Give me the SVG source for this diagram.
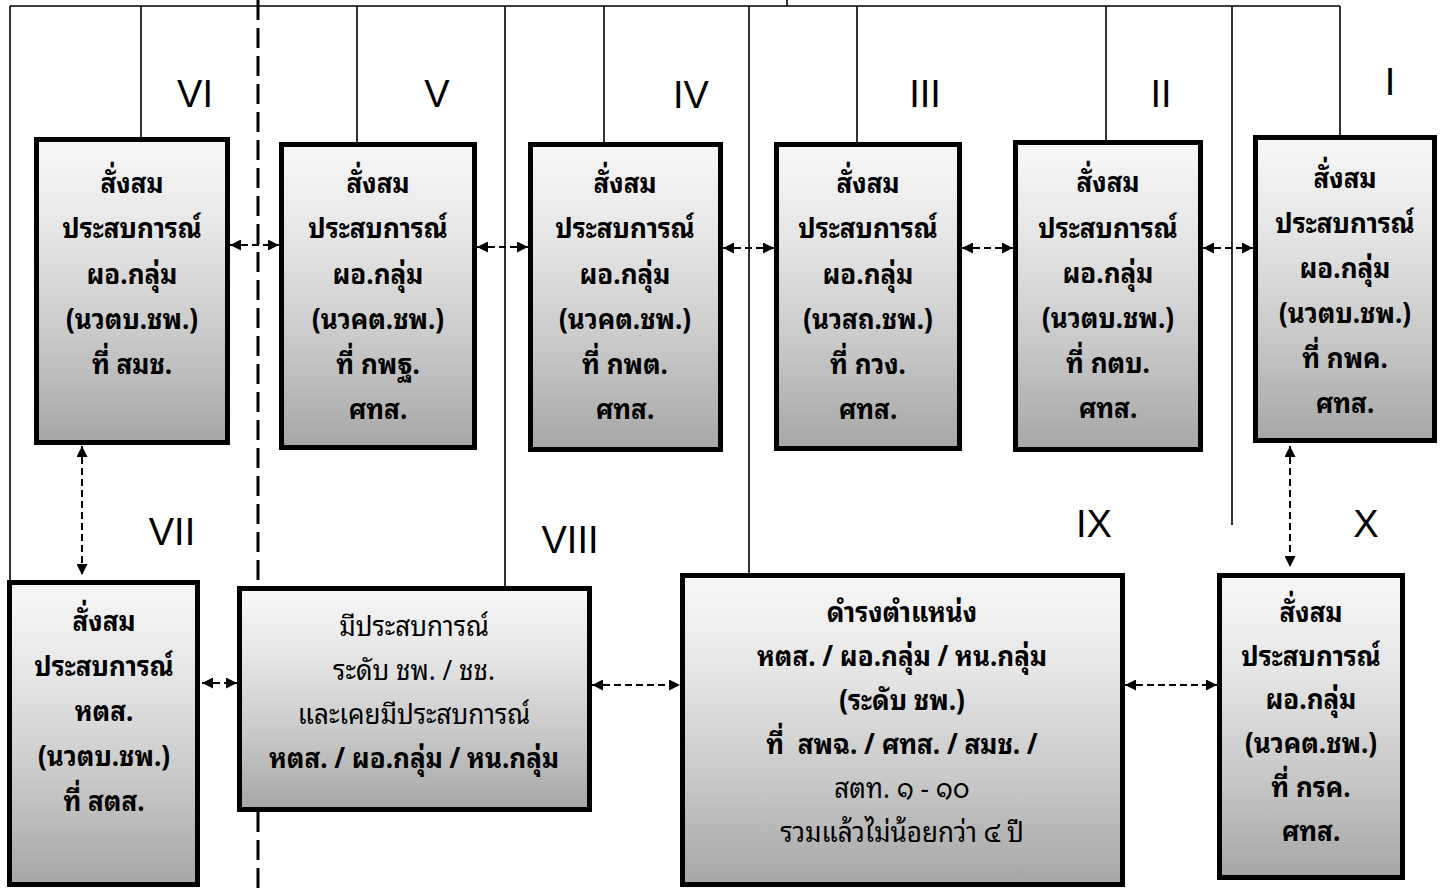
<svg xmlns="http://www.w3.org/2000/svg" width="1447" height="888" viewBox="0 0 1447 888">
<style>
.box{stroke:#000;stroke-width:5;fill:url(#shade)}
.th{font-family:"Noto Sans Thai Looped","Loma","Garuda","Noto Sans Thai","Noto Sans","DejaVu Sans",sans-serif;font-size:28px;font-weight:bold;text-anchor:middle;fill:#000}
.thn{font-weight:normal}
.rn{font-family:"Liberation Sans",Arial,sans-serif;font-size:38px;text-anchor:middle;fill:#000}
.wire{stroke:#000;stroke-width:1.6;fill:none}
.div{stroke:#000;stroke-width:3;stroke-dasharray:20 8;fill:none}
.arr{stroke:#000;stroke-width:2;stroke-dasharray:7 4;fill:none;marker-start:url(#ah);marker-end:url(#ah)}
</style>
<defs>
<linearGradient id="shade" x1="0" y1="0" x2="0" y2="1">
<stop offset="0" stop-color="#f7f7f7"/>
<stop offset="0.3" stop-color="#e6e6e6"/>
<stop offset="0.65" stop-color="#c9c9c9"/>
<stop offset="1" stop-color="#a6a6a6"/>
</linearGradient>
<marker id="ah" viewBox="0 0 10 10" refX="10" refY="5" markerWidth="11" markerHeight="11" markerUnits="userSpaceOnUse" orient="auto-start-reverse">
<path d="M0,0 L10,5 L0,10 z" fill="#000"/>
</marker>
</defs>
<rect width="1447" height="888" fill="#fff"/>
<g id="connectors">
<path class="wire" d="M10,6 H1340 M787,0 V6 M10,6 V580 M141,6 V137 M357,6 V142 M505,6 V586 M604,6 V142 M749,6 V573 M857,6 V142 M1106,6 V140 M1232,6 V525 M1340,6 V135"/>
<path class="div" d="M258,0 V888"/>
<path class="arr" d="M230,245 H279"/>
<path class="arr" d="M477,247 H528"/>
<path class="arr" d="M723,248 H774"/>
<path class="arr" d="M962,248 H1013"/>
<path class="arr" d="M1203,248 H1253"/>
<path class="arr" d="M202,683 H237"/>
<path class="arr" d="M592,685 H680"/>
<path class="arr" d="M1125,685 H1217"/>
<path class="arr" d="M82,446 V575"/>
<path class="arr" d="M1290,446 V567"/>
</g>
<g id="labels">
<text class="rn" x="195" y="107">VI</text>
<text class="rn" x="437" y="107">V</text>
<text class="rn" x="691" y="108">IV</text>
<text class="rn" x="925" y="107">III</text>
<text class="rn" x="1161" y="107">II</text>
<text class="rn" x="1390" y="95">I</text>
<text class="rn" x="172" y="545">VII</text>
<text class="rn" x="570" y="553">VIII</text>
<text class="rn" x="1094" y="537">IX</text>
<text class="rn" x="1366" y="537">X</text>
</g>
<g id="node-VI">
<rect class="box" x="36.5" y="139.5" width="191" height="303"/>
<text class="th" transform="translate(132,0) scale(0.93,1)"><tspan x="0" y="193">สั่งสม</tspan><tspan x="0" y="238">ประสบการณ์</tspan><tspan x="0" y="284">ผอ.กลุ่ม</tspan><tspan x="0" y="329">(นวตบ.ชพ.)</tspan><tspan x="0" y="374">ที่ สมช.</tspan></text>
</g>
<g id="node-V">
<rect class="box" x="281.5" y="144.5" width="193" height="303"/>
<text class="th" transform="translate(378,0) scale(0.93,1)"><tspan x="0" y="193">สั่งสม</tspan><tspan x="0" y="238">ประสบการณ์</tspan><tspan x="0" y="284">ผอ.กลุ่ม</tspan><tspan x="0" y="329">(นวคต.ชพ.)</tspan><tspan x="0" y="374">ที่ กพฐ.</tspan><tspan x="0" y="419">ศทส.</tspan></text>
</g>
<g id="node-IV">
<rect class="box" x="530.5" y="144.5" width="190" height="305"/>
<text class="th" transform="translate(625,0) scale(0.93,1)"><tspan x="0" y="193">สั่งสม</tspan><tspan x="0" y="238">ประสบการณ์</tspan><tspan x="0" y="284">ผอ.กลุ่ม</tspan><tspan x="0" y="329">(นวคต.ชพ.)</tspan><tspan x="0" y="374">ที่ กพต.</tspan><tspan x="0" y="419">ศทส.</tspan></text>
</g>
<g id="node-III">
<rect class="box" x="776.5" y="144.5" width="183" height="304"/>
<text class="th" transform="translate(868,0) scale(0.93,1)"><tspan x="0" y="193">สั่งสม</tspan><tspan x="0" y="238">ประสบการณ์</tspan><tspan x="0" y="284">ผอ.กลุ่ม</tspan><tspan x="0" y="329">(นวสถ.ชพ.)</tspan><tspan x="0" y="374">ที่ กวง.</tspan><tspan x="0" y="419">ศทส.</tspan></text>
</g>
<g id="node-II">
<rect class="box" x="1015.5" y="142.5" width="185" height="307"/>
<text class="th" transform="translate(1108,0) scale(0.93,1)"><tspan x="0" y="192">สั่งสม</tspan><tspan x="0" y="238">ประสบการณ์</tspan><tspan x="0" y="283">ผอ.กลุ่ม</tspan><tspan x="0" y="328">(นวตบ.ชพ.)</tspan><tspan x="0" y="373">ที่ กตบ.</tspan><tspan x="0" y="418">ศทส.</tspan></text>
</g>
<g id="node-I">
<rect class="box" x="1255.5" y="137.5" width="179" height="303"/>
<text class="th" transform="translate(1345,0) scale(0.93,1)"><tspan x="0" y="188">สั่งสม</tspan><tspan x="0" y="233">ประสบการณ์</tspan><tspan x="0" y="278">ผอ.กลุ่ม</tspan><tspan x="0" y="323">(นวตบ.ชพ.)</tspan><tspan x="0" y="368">ที่ กพค.</tspan><tspan x="0" y="413">ศทส.</tspan></text>
</g>
<g id="node-VII">
<rect class="box" x="9.5" y="582.5" width="188" height="302"/>
<text class="th" transform="translate(104,0) scale(0.93,1)"><tspan x="0" y="631">สั่งสม</tspan><tspan x="0" y="676">ประสบการณ์</tspan><tspan x="0" y="721">หตส.</tspan><tspan x="0" y="766">(นวตบ.ชพ.)</tspan><tspan x="0" y="811">ที่ สตส.</tspan></text>
</g>
<g id="node-VIII">
<rect class="box" x="239.5" y="588.5" width="350" height="221"/>
<text class="th" transform="translate(414,0) scale(0.93,1)"><tspan class="thn" x="0" y="636">มีประสบการณ์</tspan><tspan class="thn" x="0" y="680">ระดับ ชพ. / ชช.</tspan><tspan class="thn" x="0" y="724">และเคยมีประสบการณ์</tspan><tspan x="0" y="768">หตส. / ผอ.กลุ่ม / หน.กลุ่ม</tspan></text>
</g>
<g id="node-IX">
<rect class="box" x="682.5" y="575.5" width="440" height="309"/>
<text class="th" transform="translate(902,0) scale(0.93,1)"><tspan x="0" y="622">ดำรงตำแหน่ง</tspan><tspan x="0" y="666">หตส. / ผอ.กลุ่ม / หน.กลุ่ม</tspan><tspan x="0" y="710">(ระดับ ชพ.)</tspan><tspan x="0" y="754">ที่&#160; สพฉ. / ศทส. / สมช. /</tspan><tspan class="thn" x="0" y="798">สตท. ๑ - ๑๐</tspan><tspan class="thn" x="0" y="842">รวมแล้วไม่น้อยกว่า ๔ ปี</tspan></text>
</g>
<g id="node-X">
<rect class="box" x="1219.5" y="575.5" width="183" height="302"/>
<text class="th" transform="translate(1311,0) scale(0.93,1)"><tspan x="0" y="622">สั่งสม</tspan><tspan x="0" y="666">ประสบการณ์</tspan><tspan x="0" y="709">ผอ.กลุ่ม</tspan><tspan x="0" y="753">(นวคต.ชพ.)</tspan><tspan x="0" y="797">ที่ กรค.</tspan><tspan x="0" y="841">ศทส.</tspan></text>
</g>
</svg>
